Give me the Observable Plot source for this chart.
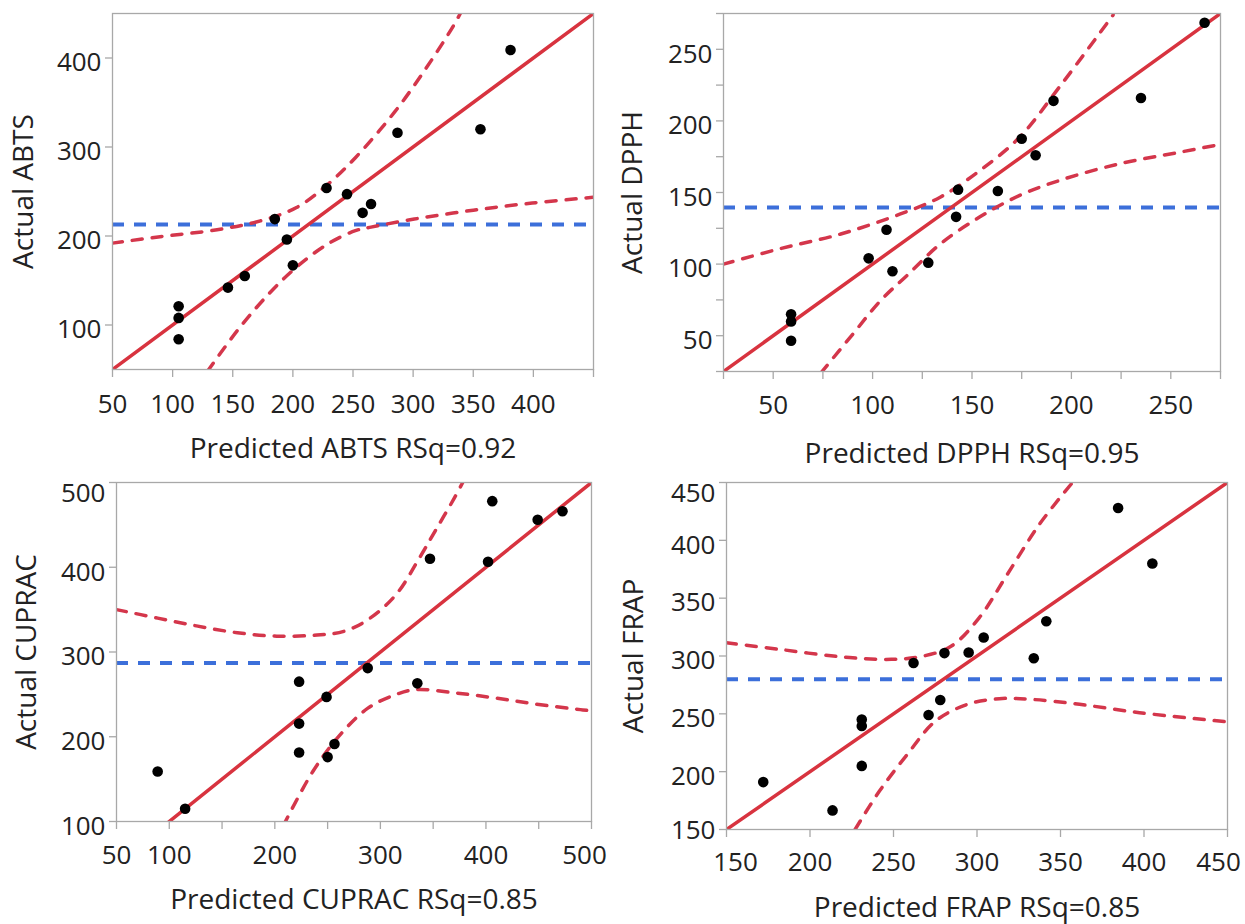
<!DOCTYPE html>
<html><head><meta charset="utf-8">
<script src="https://cdn.jsdelivr.net/npm/d3@7"></script>
<script src="https://cdn.jsdelivr.net/npm/@observablehq/plot@0.6"></script>
<style>
body{margin:0;background:#fff;}
#wrap{position:relative;width:1245px;height:924px;font-family:"Open Sans",sans-serif;background:#fff;}
.panel{position:absolute;}
</style></head><body><div id="wrap"></div>
<script>
// ---------- ABTS ----------
const abtsPredicted = [105,105,105,146,160,185,195,200,228,245,258,265,287,356,381];
const abtsActual    = [121,108,84,142,155,219,196,167,254,247,226,236,316,320,409];
const abtsUpperX = [50,88,137,173,203,229,252,285,311,333,340];
const abtsUpperY = [192,199,207,217,232,258,288,340,389,435,452];
const abtsLowerX = [129,154,180,203,229,252,265,301,350,399,450];
const abtsLowerY = [48,94,135,165,191,206,210,219,229,237,243.5];
const abtsMean = 213;
const abtsFit = [50,450];
const abtsXTicks = [50,100,150,200,250,300,350,400,450];
const abtsXLabels = [50,100,150,200,250,300,350,400];
const abtsYTicks = [100,200,300,400];

// ---------- DPPH ----------
const dpphPredicted = [59,59,59,98,107,110,128,142,143,163,175,182,191,235,267];
const dpphActual    = [65,60,46.5,104,124,95,101,133,152,151,187.5,176,214,216,268.5];
const dpphUpperX = [25,53,84,114,134,154,174,194,221];
const dpphUpperY = [100,110.6,121,135,146.7,165.4,188.7,223.7,274];
const dpphLowerX = [74,90,104,118,134,154,174,194,224,254,275];
const dpphLowerY = [24,51,74.5,93,114,133,148,158.4,170,178,183.6];
const dpphMean = 139.5;
const dpphFit = [25,275];
const dpphXTicks = [25,50,75,100,125,150,175,200,225,250,275];
const dpphXLabels = [50,100,150,200,250];
const dpphYTicks = [25,50,75,100,125,150,175,200,225,250,275];
const dpphYLabels = [50,100,150,200,250];

// ---------- CUPRAC ----------
const cupracPredicted = [89,115,223,223,223,249,250,256.5,288,335,347,402,406,449,472.5];
const cupracActual    = [159,115,265,215.5,181.5,247,176,191.5,281,263,410,406.5,478,456,466];
const cupracUpperX = [50,89,127,164.5,202,240,266,288.5,315,337,352,370,378];
const cupracUpperY = [350,340,330.5,322.7,318.7,320,324.6,338.4,368,411,443,481.5,500];
const cupracLowerX = [208,236,262,288.5,315,333.5,371,408.6,446,489.4,500];
const cupracLowerY = [95,159,202.5,234,250,255.7,251.7,245.8,238.7,232,230.5];
const cupracMean = 287;
const cupracFit = [50,500];
const cupracXTicks = [50,100,150,200,250,300,350,400,450,500];
const cupracXLabels = [50,100,200,300,400,500];
const cupracYTicks = [100,200,300,400,500];

// ---------- FRAP ----------
const frapPredicted = [172,213.5,231,231,231,262,271,278,280.5,295,304,334,341.5,384.5,405];
const frapActual    = [191,166.5,245,239.5,205,294,249,262,302.5,303,316,298,330,428,380];
const frapUpperX = [150,181.6,217.6,248.7,268,284.7,301.4,318.2,337.4,356.6];
const frapUpperY = [311.5,305.8,299.4,297.1,300,308.6,333.2,370.7,413.9,449];
const frapLowerX = [227,241.5,258.3,275.1,294.3,313.4,332.6,361.4,397.3,449];
const frapLowerY = [150,183,215,243.7,258.2,263.1,262.5,258.2,251,243.2];
const frapMean = 280;
const frapFit = [150,450];
const frapXTicks = [150,200,250,300,350,400,450];
const frapYTicks = [150,200,250,300,350,400,450];

const RED = "#d8333f";
const RED2 = "#d4364b";
const BLUE = "#3c6fda";
const INK = "#222";
const AXIS = "#a8a8a8";
const TICKFS = 26;
const TITLEFS = 28;
const FONT = "'Open Sans', sans-serif";

function panel(p) {
  const pts = p.pred.map((x, i) => ({x, y: p.act[i]}));
  const up = p.upX.map((x, i) => ({x, y: p.upY[i]}));
  const lo = p.loX.map((x, i) => ({x, y: p.loY[i]}));
  const fit = p.fit.map(v => ({x: v, y: v}));
  const xl = p.xLabels || p.xTicks, yl = p.yLabels || p.yTicks;
  const xs = p.xShift || {}, ys = p.yShift || {};
  const xOff = 8 + p.xPad, yOff = 7 + 4;
  const labelMarks = [
    Plot.text(xl.filter(v => !(v in xs)), {x: d => d, text: d => String(d), frameAnchor: "bottom", textAnchor: "middle", lineAnchor: "top", dy: xOff, fontSize: TICKFS, fill: INK}),
    Plot.text(yl.filter(v => !(v in ys)), {y: d => d, text: d => String(d), frameAnchor: "left", textAnchor: "end", lineAnchor: "middle", dx: -yOff, dy: 5, fontSize: TICKFS, fill: INK})
  ];
  for (const v of xl.filter(v => v in xs))
    labelMarks.push(Plot.text([v], {x: d => d, text: d => String(d), frameAnchor: "bottom", textAnchor: "middle", lineAnchor: "top", dy: xOff, dx: xs[v], fontSize: TICKFS, fill: INK}));
  for (const v of yl.filter(v => v in ys))
    labelMarks.push(Plot.text([v], {y: d => d, text: d => String(d), frameAnchor: "left", textAnchor: "end", lineAnchor: "middle", dx: -yOff, dy: ys[v], fontSize: TICKFS, fill: INK}));
  const svg = Plot.plot({
    width: p.w, height: p.h,
    marginLeft: p.ml, marginRight: p.mr, marginTop: p.mt, marginBottom: p.mb,
    style: {fontFamily: FONT, background: "white", overflow: "visible"},
    x: {domain: p.xDom},
    y: {domain: p.yDom},
    marks: [
      Plot.ruleY([p.mean], {stroke: BLUE, strokeWidth: 4, strokeDasharray: "12,10"}),
      Plot.line(up, {x: "x", y: "y", curve: "catmull-rom", stroke: RED2, strokeWidth: 3.5, strokeDasharray: "10,10", clip: true}),
      Plot.line(lo, {x: "x", y: "y", curve: "catmull-rom", stroke: RED2, strokeWidth: 3.5, strokeDasharray: "10,10", clip: true}),
      Plot.line(fit, {x: "x", y: "y", stroke: RED, strokeWidth: 3.5, clip: true}),
      Plot.dot(pts, {x: "x", y: "y", r: 5.3, fill: "black", stroke: "none"}),
      Plot.frame({stroke: AXIS, strokeWidth: 1.3}),
      Plot.axisX(p.xTicks, {tickSize: 8, stroke: AXIS, strokeWidth: 1.3, tickFormat: () => "", label: null}),
      Plot.axisY(p.yTicks, {tickSize: 7, stroke: AXIS, strokeWidth: 1.3, tickFormat: () => "", label: null}),
      ...labelMarks,
      Plot.text([p.xTitle], {text: d => d, frameAnchor: "bottom", textAnchor: "middle", lineAnchor: "middle", dy: p.xTitleDy, fontSize: TITLEFS, fill: INK}),
      Plot.text([p.yTitle], {text: d => d, frameAnchor: "left", textAnchor: "middle", lineAnchor: "middle", rotate: -90, dx: p.yTitleDx, fontSize: TITLEFS, fill: INK})
    ]
  });
  svg.classList.add("panel");
  svg.style.left = p.left + "px";
  svg.style.top = p.top + "px";
  document.getElementById("wrap").appendChild(svg);
}

panel({left: 0, top: 0, w: 620, h: 470, ml: 112, mr: 27, mt: 13, mb: 101,
  pred: abtsPredicted, act: abtsActual, upX: abtsUpperX, upY: abtsUpperY, loX: abtsLowerX, loY: abtsLowerY,
  mean: abtsMean, fit: abtsFit, xDom: [50, 450], yDom: [50, 450],
  xTicks: abtsXTicks, xLabels: abtsXLabels, yTicks: abtsYTicks, xPad: 17,
  xTitle: "Predicted ABTS RSq=0.92", yTitle: "Actual ABTS", xTitleDy: 80, yTitleDx: -88});

panel({left: 620, top: 0, w: 625, h: 470, ml: 103, mr: 25, mt: 13, mb: 99,
  pred: dpphPredicted, act: dpphActual, upX: dpphUpperX, upY: dpphUpperY, loX: dpphLowerX, loY: dpphLowerY,
  mean: dpphMean, fit: dpphFit, xDom: [25, 275], yDom: [25, 275],
  xTicks: dpphXTicks, xLabels: dpphXLabels, yTicks: dpphYTicks, yLabels: dpphYLabels, xPad: 16,
  xTitle: "Predicted DPPH RSq=0.95", yTitle: "Actual DPPH", xTitleDy: 83, yTitleDx: -90});

panel({left: 0, top: 470, w: 620, h: 454, ml: 116, mr: 29, mt: 12, mb: 103,
  pred: cupracPredicted, act: cupracActual, upX: cupracUpperX, upY: cupracUpperY, loX: cupracLowerX, loY: cupracLowerY,
  mean: cupracMean, fit: cupracFit, xDom: [50, 500], yDom: [100, 500],
  xTicks: cupracXTicks, xLabels: cupracXLabels, yTicks: cupracYTicks, xPad: 16,
  xShift: {500: -7}, yShift: {500: 11},
  xTitle: "Predicted CUPRAC RSq=0.85", yTitle: "Actual CUPRAC", xTitleDy: 79, yTitleDx: -89});

panel({left: 620, top: 470, w: 625, h: 454, ml: 106, mr: 18, mt: 12, mb: 95,
  pred: frapPredicted, act: frapActual, upX: frapUpperX, upY: frapUpperY, loX: frapLowerX, loY: frapLowerY,
  mean: frapMean, fit: frapFit, xDom: [150, 450], yDom: [150, 450],
  xTicks: frapXTicks, yTicks: frapYTicks, xPad: 15,
  xShift: {150: 9, 450: -9}, yShift: {450: 11, 150: 1},
  xTitle: "Predicted FRAP RSq=0.85", yTitle: "Actual FRAP", xTitleDy: 79, yTitleDx: -92});
</script>
</body></html>
